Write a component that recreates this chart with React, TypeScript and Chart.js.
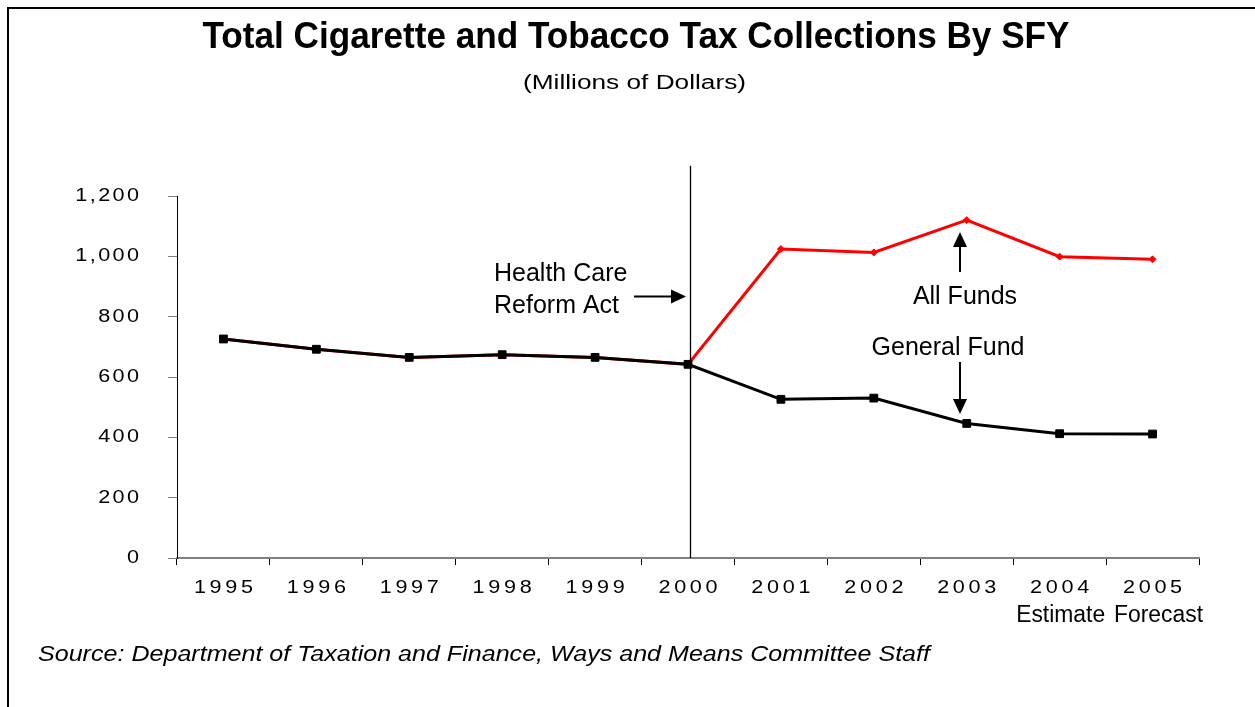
import React, { useEffect, useRef } from "react";
import { Chart, registerables } from "chart.js";

Chart.register(...registerables);

// ---------- data ----------
const years = ["1995", "1996", "1997", "1998", "1999", "2000", "2001", "2002", "2003", "2004", "2005"];
const subLabels = ["", "", "", "", "", "", "", "", "", "Estimate", "Forecast"];
const generalFund = [726, 692, 665, 674, 665, 642, 526, 530, 446, 412, 411];
const allFunds = [726, 692, 665, 674, 665, 642, 1024, 1013, 1120, 999, 990];
const yTickValues = [0, 200, 400, 600, 800, 1000, 1200];
const yTickLabels = ["0", "200", "400", "600", "800", "1,000", "1,200"];
const reformYearIndex = 5;
const reformLineTop = 1300;

const titleText = "Total Cigarette and Tobacco Tax Collections By SFY";
const subtitleText = "(Millions of Dollars)";
const sourceText = "Source: Department of Taxation and Finance, Ways and Means Committee Staff";
const reformLines = ["Health Care", "Reform Act"];
const allFundsLabel = "All Funds";
const generalFundLabel = "General Fund";

const FONT = "'Liberation Sans', Arial, Helvetica, sans-serif";

function drawSpaced(ctx: CanvasRenderingContext2D, text: string, x: number, y: number, spacing: number, align: string, hscale: number) {
  const chars = Array.from(text);
  const widths = chars.map((c) => ctx.measureText(c).width * hscale);
  const total = widths.reduce((a, b) => a + b, 0) + spacing * (chars.length - 1);
  let start = align === "right" ? x - total : align === "center" ? x - total / 2 : x;
  ctx.textAlign = "left";
  chars.forEach((c, i) => {
    ctx.save();
    ctx.translate(start, y);
    ctx.scale(hscale, 1);
    ctx.fillText(c, 0, 0);
    ctx.restore();
    start += widths[i] + spacing;
  });
}

function drawFitted(ctx: CanvasRenderingContext2D, text: string, x: number, y: number, target: number, align: CanvasTextAlign) {
  ctx.textAlign = align;
  const w = ctx.measureText(text).width;
  const s = target / w;
  ctx.save();
  ctx.translate(x, y);
  ctx.scale(s, 1);
  ctx.fillText(text, 0, 0);
  ctx.restore();
}

function arrow(ctx: CanvasRenderingContext2D, x1: number, y1: number, x2: number, y2: number) {
  const ang = Math.atan2(y2 - y1, x2 - x1);
  const head = 15;
  const half = 7;
  const bx = x2 - head * Math.cos(ang);
  const by = y2 - head * Math.sin(ang);
  ctx.save();
  ctx.strokeStyle = "#000";
  ctx.fillStyle = "#000";
  ctx.lineWidth = 2;
  ctx.beginPath();
  ctx.moveTo(x1, y1);
  ctx.lineTo(bx, by);
  ctx.stroke();
  ctx.beginPath();
  ctx.moveTo(x2, y2);
  ctx.lineTo(bx + half * Math.sin(ang), by - half * Math.cos(ang));
  ctx.lineTo(bx - half * Math.sin(ang), by + half * Math.cos(ang));
  ctx.closePath();
  ctx.fill();
  ctx.restore();
}

const decorPlugin = {
  id: "decor",
  afterDraw(chart: any) {
    const ctx: CanvasRenderingContext2D = chart.ctx;
    const xS = chart.scales.x;
    const yS = chart.scales.y;
    const area = chart.chartArea;
    ctx.save();

    // vertical reform line
    const vx = Math.round(xS.getPixelForValue(reformYearIndex)) + 2.5;
    ctx.strokeStyle = "#000";
    ctx.lineWidth = 1.3;
    ctx.beginPath();
    ctx.moveTo(vx, yS.getPixelForValue(reformLineTop));
    ctx.lineTo(vx, area.bottom);
    ctx.stroke();

    ctx.fillStyle = "#000";
    ctx.textBaseline = "middle";

    // y tick labels
    ctx.font = `18px ${FONT}`;
    yTickValues.forEach((v, i) => {
      drawSpaced(ctx, yTickLabels[i], 139, yS.getPixelForValue(v), 2.4, "right", 1.2);
    });

    // x tick labels
    years.forEach((yr, i) => {
      drawSpaced(ctx, yr, xS.getPixelForValue(i), area.bottom + 30, 3.7, "center", 1.2);
    });
    ctx.font = `23px ${FONT}`;
    subLabels.forEach((s, i) => {
      if (!s) return;
      drawFitted(ctx, s, xS.getPixelForValue(i) + (i === subLabels.length - 1 ? 6 : 1), area.bottom + 58, 89, "center");
    });

    // title
    ctx.font = `bold 36px ${FONT}`;
    drawFitted(ctx, titleText, 636, 38, 867, "center");
    ctx.font = `20px ${FONT}`;
    drawFitted(ctx, subtitleText, 634.5, 83, 223, "center");

    // source
    ctx.font = `italic 22px ${FONT}`;
    drawFitted(ctx, sourceText, 38, 655, 892, "left");

    // annotations
    ctx.font = `25px ${FONT}`;
    ctx.textAlign = "left";
    ctx.fillText(reformLines[0], 494, 274);
    ctx.fillText(reformLines[1], 494, 306);
    ctx.textAlign = "center";
    ctx.fillText(allFundsLabel, 965, 297);
    ctx.fillText(generalFundLabel, 948, 348);

    arrow(ctx, 634, 296.5, 686, 296.5);
    arrow(ctx, 960, 272, 960, 232);
    arrow(ctx, 960, 362, 960, 414);

    ctx.restore();
  },
};

export default function App() {
  const ref = useRef<HTMLCanvasElement | null>(null);
  useEffect(() => {
    if (!ref.current) return;
    const chart = new Chart(ref.current, {
      type: "line",
      data: {
        labels: years,
        datasets: [
          {
            label: "General Fund",
            data: generalFund,
            borderColor: "#000000",
            backgroundColor: "#000000",
            borderWidth: 3,
            pointStyle: "rect",
            pointRadius: 5.5,
            pointBorderWidth: 1,
            tension: 0,
          },
          {
            label: "All Funds",
            data: allFunds,
            borderColor: "#ff0000",
            backgroundColor: "#ff0000",
            borderWidth: 3,
            pointStyle: "rectRot",
            pointRadius: 3.5,
            pointBorderWidth: 1,
            tension: 0,
          },
        ],
      },
      options: {
        animation: false,
        responsive: false,
        events: [],
        layout: { padding: { left: 0, top: 196, right: 56, bottom: 0 } },
        plugins: { legend: { display: false }, tooltip: { enabled: false }, title: { display: false } },
        scales: {
          x: {
            type: "category",
            offset: true,
            grid: { offset: true, drawOnChartArea: false, drawTicks: true, tickLength: 7, color: "#000", lineWidth: 1 },
            border: { display: true, color: "#808080", width: 2 },
            ticks: { display: false },
            afterFit: (s: any) => {
              s.height = 149;
            },
          },
          y: {
            min: 0,
            max: 1200,
            ticks: { display: false, stepSize: 200 },
            grid: { drawOnChartArea: false, drawTicks: true, tickLength: 9, color: "#808080", lineWidth: 1 },
            border: { display: true, color: "#000", width: 1 },
            afterFit: (s: any) => {
              s.width = 177;
            },
          },
        },
      },
      plugins: [decorPlugin],
    } as any);
    return () => chart.destroy();
  }, []);

  return (
    <>
      <div
        style={{
          position: "fixed",
          left: 7,
          top: 7,
          width: 1248,
          height: 700,
          borderTop: "2px solid #000",
          borderLeft: "2px solid #000",
          pointerEvents: "none",
          zIndex: 2,
        }}
      />
      <canvas
        ref={ref}
        width={1255}
        height={707}
        style={{ position: "fixed", left: 0, top: 0, width: 1255, height: 707, background: "#fff" }}
      />
    </>
  );
}
